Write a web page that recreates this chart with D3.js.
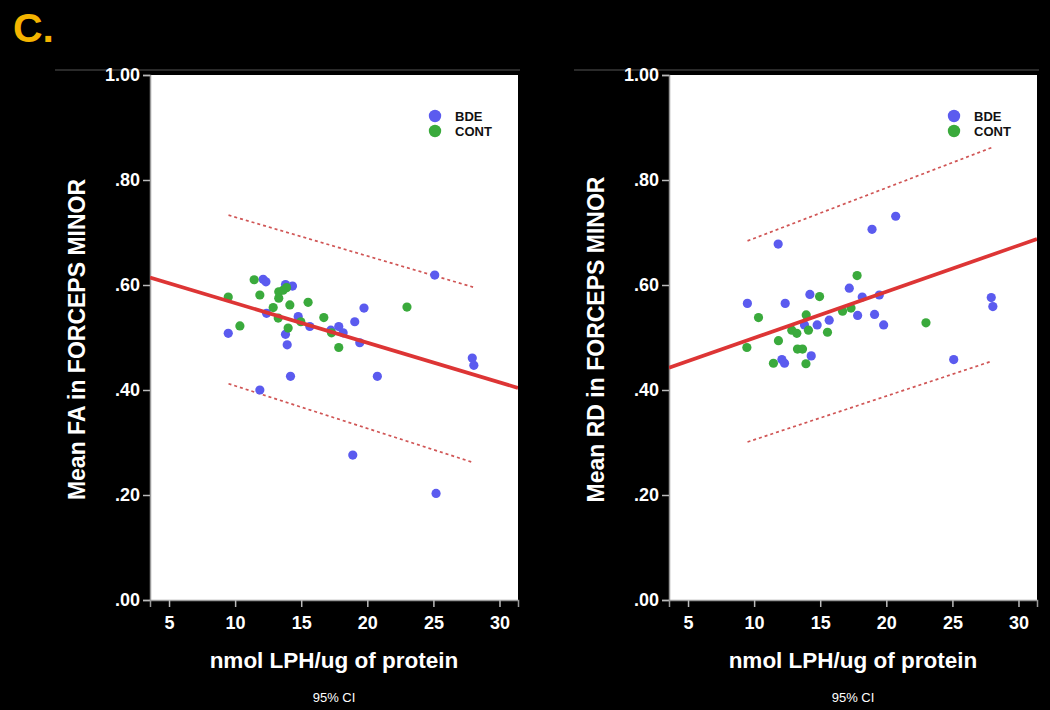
<!DOCTYPE html>
<html lang="en">
<head>
    <meta charset="UTF-8">
    <title>Forceps minor vs LPH</title>
    <script src="https://d3js.org/d3.v7.min.js"></script>
    <style>
        body { margin: 0; background: #000; }
        text { font-family: "Liberation Sans", Arial, sans-serif; }
    </style>
</head>
<body>
<div id="chart"></div>
<script>
    // --- data ---
    const xTicks = [5, 10, 15, 20, 25, 30];
    const yTicks = [0, 0.2, 0.4, 0.6, 0.8, 1.0];
    const groups = ["BDE", "CONT"];

    // Mean FA panel: [nmol LPH/ug, FA]
    const faBde = [
        [12.12, .611], [12.33, .606], [13.81, .601], [14.34, .598], [12.38, .546],
        [9.48, .508], [13.81, .506], [13.94, .486], [14.77, .540], [15.65, .521],
        [17.24, .514], [17.84, .521], [18.17, .509], [19.05, .530], [19.75, .556],
        [19.43, .490], [14.19, .426], [20.76, .426], [11.87, .400], [25.10, .619],
        [27.94, .461], [28.06, .447], [25.20, .203], [18.90, .276]
    ];
    const faCont = [
        [9.48, .577], [11.44, .610], [11.87, .581], [10.36, .522], [12.88, .557],
        [13.30, .587], [13.63, .590], [13.89, .595], [13.30, .575], [14.14, .562],
        [13.26, .537], [14.01, .518], [15.52, .567], [14.97, .530], [16.71, .538],
        [17.29, .509], [17.84, .481], [23.00, .558]
    ];
    const faFit = [0.641, -0.00755];            // intercept, slope
    const faCiUpper = [[9.5, .733], [28.0, .596]];
    const faCiLower = [[9.5, .412], [28.0, .262]];

    // Mean RD panel
    const rdBde = [
        [9.49, .565], [12.35, .565], [14.22, .582], [17.20, .594], [18.18, .577],
        [19.47, .581], [13.81, .524], [14.77, .524], [15.68, .533], [17.83, .542],
        [19.11, .544], [19.80, .524], [14.32, .465], [12.10, .458], [12.30, .451],
        [11.82, .678], [18.92, .706], [20.71, .731], [27.94, .576], [28.06, .559],
        [25.10, .458]
    ];
    const rdCont = [
        [14.95, .578], [10.33, .538], [13.94, .543], [16.69, .550], [17.33, .556],
        [12.85, .514], [13.23, .508], [14.11, .514], [15.55, .510], [11.84, .494],
        [9.45, .481], [13.28, .478], [13.66, .478], [11.46, .451], [13.92, .450],
        [17.79, .618], [23.00, .528]
    ];
    const rdFit = [0.411, 0.00881];
    const rdCiUpper = [[9.5, .684], [28.0, .862]];
    const rdCiLower = [[9.5, .301], [28.0, .455]];

    const colors = {BDE: "#5b5bef", CONT: "#3aaa3c"};

    const width = 1050, height = 710;
    const svg = d3.select("#chart").append("svg")
        .attr("width", width)
        .attr("height", height)
        .style("background", "#000");

    svg.append("text")
        .attr("x", 13).attr("y", 42)
        .attr("fill", "#f5b400")
        .style("font-size", "41px")
        .style("font-weight", "bold")
        .text("C.");

    const fmtY = d => d3.format(".2f")(d).replace(/^0/, "");

    function drawPanel(left, yLabel, bde, cont, fit, ciUp, ciLo) {
        const plotW = 368, plotH = 525, top = 75;
        const x = d3.scaleLinear().domain([3.56, 31.4]).range([left, left + plotW]);
        const y = d3.scaleLinear().domain([0, 1]).range([top + plotH, top]);

        // thin frame line above panel
        svg.append("line")
            .attr("x1", left - 95).attr("x2", left + plotW + 2)
            .attr("y1", 70).attr("y2", 70)
            .attr("stroke", "#555").attr("stroke-width", 1);

        svg.append("rect")
            .attr("x", left).attr("y", top)
            .attr("width", plotW).attr("height", plotH)
            .attr("fill", "#fff");

        const yAxis = svg.append("g")
            .attr("transform", `translate(${left},0)`)
            .call(d3.axisLeft(y).tickValues(yTicks).tickFormat(fmtY).tickSize(7).tickPadding(3));
        const xAxis = svg.append("g")
            .attr("transform", `translate(0,${top + plotH})`)
            .call(d3.axisBottom(x).tickValues(xTicks).tickSize(7).tickPadding(9));

        [xAxis, yAxis].forEach(a => {
            a.select(".domain").attr("stroke", "#999").attr("stroke-width", 1.5);
            a.selectAll(".tick line").attr("stroke", "#bbb").attr("stroke-width", 1.5);
            a.selectAll("text")
                .attr("fill", "#fff")
                .style("font-size", "18px")
                .style("font-weight", "bold")
                .style("font-family", "'Liberation Sans', Arial, sans-serif");
        });

        const clip = "clip" + left;
        svg.append("clipPath").attr("id", clip)
            .append("rect").attr("x", left).attr("y", top)
            .attr("width", plotW).attr("height", plotH);

        const g = svg.append("g").attr("clip-path", `url(#${clip})`);

        const line = d3.line().x(d => x(d[0])).y(d => y(d[1]));

        [ciUp, ciLo].forEach(ci => {
            g.append("path")
                .attr("d", line(ci))
                .attr("fill", "none")
                .attr("stroke", "#d05555")
                .attr("stroke-width", 1.7)
                .attr("stroke-dasharray", "3,3");
        });

        g.selectAll(".bde").data(bde).enter().append("circle")
            .attr("cx", d => x(d[0])).attr("cy", d => y(d[1]))
            .attr("r", 4.6).attr("fill", colors.BDE);
        g.selectAll(".cont").data(cont).enter().append("circle")
            .attr("cx", d => x(d[0])).attr("cy", d => y(d[1]))
            .attr("r", 4.6).attr("fill", colors.CONT);

        const dom = x.domain();
        g.append("path")
            .attr("d", line(dom.map(v => [v, fit[0] + fit[1] * v])))
            .attr("fill", "none")
            .attr("stroke", "#dd3535")
            .attr("stroke-width", 3.7);

        // legend
        groups.forEach((k, i) => {
            svg.append("circle")
                .attr("cx", left + 285).attr("cy", 116 + i * 15)
                .attr("r", 6.2).attr("fill", colors[k]);
            svg.append("text")
                .attr("x", left + 305).attr("y", 121 + i * 15)
                .attr("fill", "#111")
                .style("font-size", "13px")
                .style("font-weight", "bold")
                .text(k);
        });

        // axis titles
        svg.append("text")
            .attr("transform", `translate(${left - 65},${top + plotH / 2 + 2}) rotate(-90)`)
            .attr("text-anchor", "middle")
            .attr("fill", "#fff")
            .style("font-size", "23px")
            .style("font-weight", "bold")
            .text(yLabel);

        svg.append("text")
            .attr("x", left + plotW / 2).attr("y", 668)
            .attr("text-anchor", "middle")
            .attr("fill", "#fff")
            .style("font-size", "22.5px")
            .style("font-weight", "bold")
            .text("nmol LPH/ug of protein");

        svg.append("text")
            .attr("x", left + plotW / 2).attr("y", 702)
            .attr("text-anchor", "middle")
            .attr("fill", "#fff")
            .style("font-size", "13px")
            .text("95% CI");
    }

    drawPanel(150, "Mean FA in FORCEPS  MINOR", faBde, faCont, faFit, faCiUpper, faCiLower);
    drawPanel(669, "Mean RD in FORCEPS  MINOR", rdBde, rdCont, rdFit, rdCiUpper, rdCiLower);
</script>
</body>
</html>
